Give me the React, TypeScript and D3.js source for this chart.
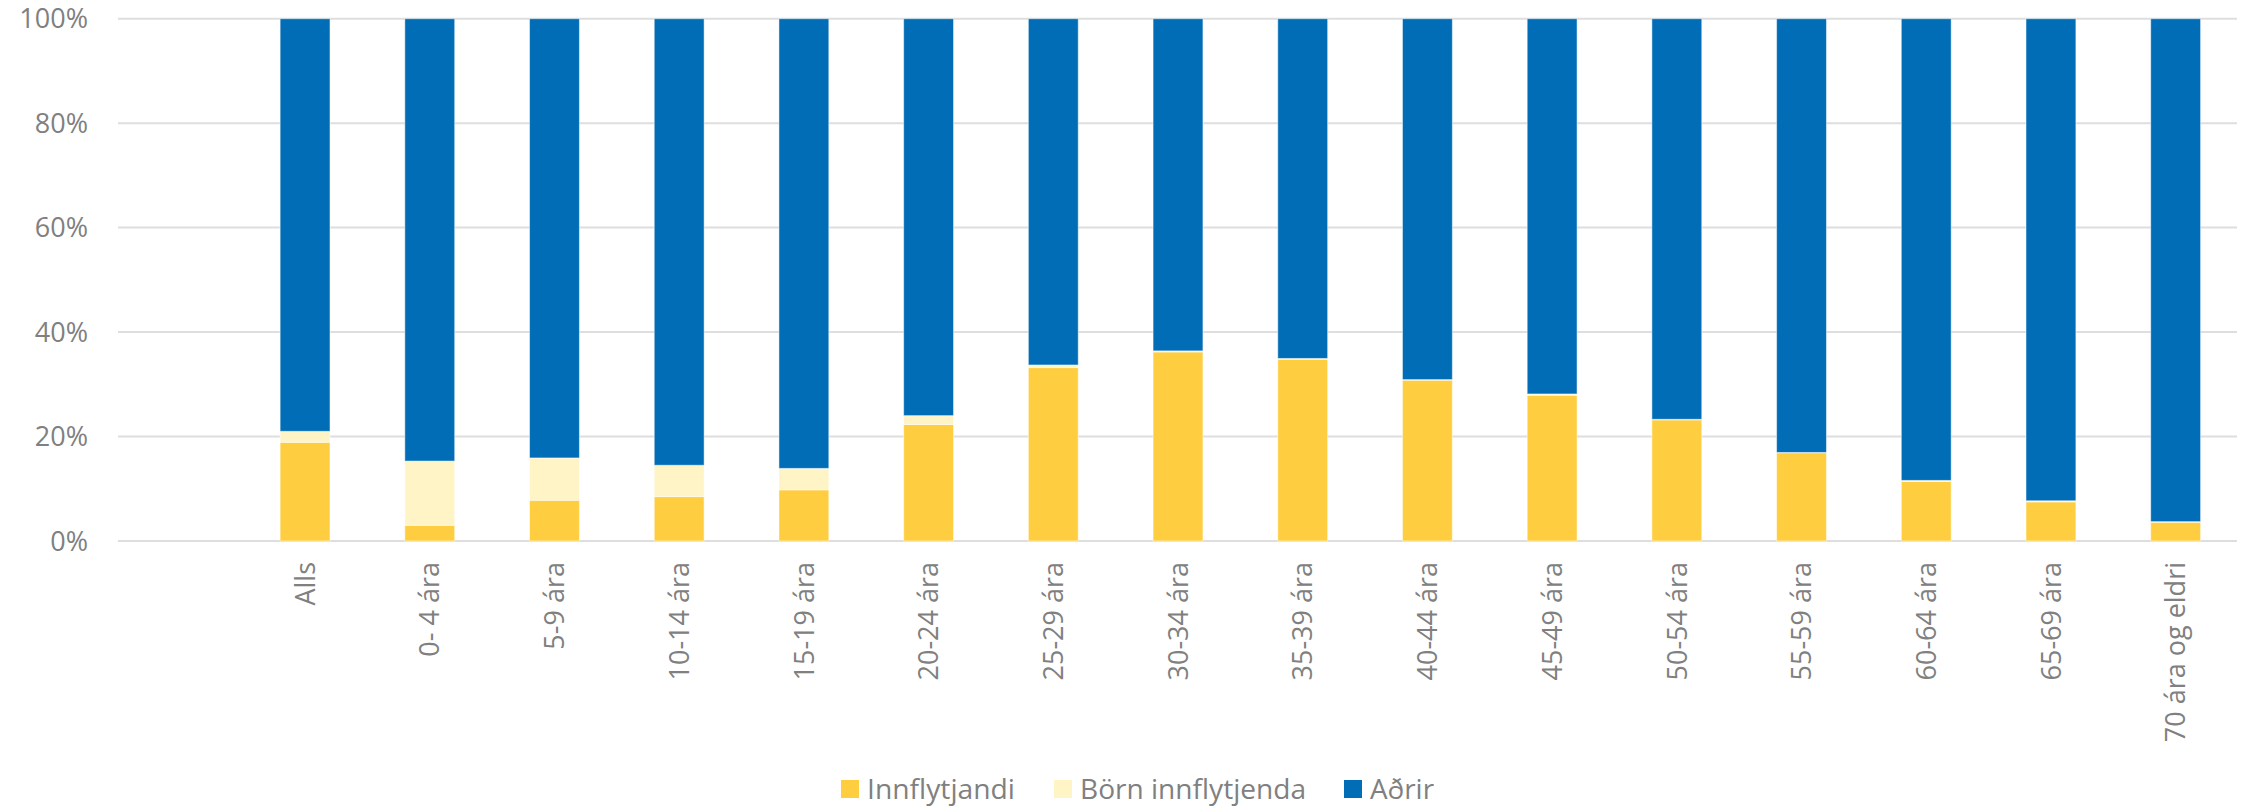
import React from "react";
import * as d3 from "d3";

const categories = [
  "Alls", "0- 4 ára", "5-9 ára", "10-14 ára", "15-19 ára", "20-24 ára", "25-29 ára",
  "30-34 ára", "35-39 ára", "40-44 ára", "45-49 ára", "50-54 ára", "55-59 ára",
  "60-64 ára", "65-69 ára", "70 ára og eldri",
];
const innflytjandi = [18.9, 3.0, 7.8, 8.5, 9.8, 22.3, 33.2, 36.2, 34.8, 30.8, 27.9, 23.2, 16.9, 11.4, 7.5, 3.6];
const bornInnflytjenda = [2.1, 12.3, 8.1, 6.0, 4.1, 1.7, 0.5, 0.2, 0.15, 0.1, 0.25, 0.1, 0.05, 0.2, 0.2, 0.1];
const adrir = [79.0, 84.7, 84.1, 85.5, 86.1, 76.0, 66.3, 63.6, 65.05, 69.1, 71.85, 76.7, 83.05, 88.4, 92.3, 96.3];
const seriesNames = ["Innflytjandi", "Börn innflytjenda", "Aðrir"];
const seriesColors = ["#FECE40", "#FFF4C5", "#006DB6"];
const yTicks = [0, 0.2, 0.4, 0.6, 0.8, 1];

const W = 2252;
const H = 808;
const FONT = "'Open Sans', sans-serif";
const GRAY = "#808080";

export default function App() {
  const rows = categories.map((c, i) => ({
    cat: c,
    [seriesNames[0]]: innflytjandi[i],
    [seriesNames[1]]: bornInnflytjenda[i],
    [seriesNames[2]]: adrir[i],
  }));
  const stacked = d3.stack<any>().keys(seriesNames).offset(d3.stackOffsetExpand)(rows);

  const x = d3
    .scaleBand<string>()
    .domain(["", ...categories])
    .range([118, 2238])
    .paddingInner(0.6)
    .paddingOuter(0.3);
  const y = d3.scaleLinear().domain([0, 1]).range([541, 18.7]);
  const fmt = d3.format(".0%");

  const legendItems = [
    { x: 841, tx: 867, tw: 148 },
    { x: 1054, tx: 1080, tw: 226 },
    { x: 1344, tx: 1370, tw: 64 },
  ];

  return (
    <svg
      width={W}
      height={H}
      style={{ position: "absolute", left: 0, top: 0, display: "block", background: "#fff" }}
    >
      <g>
        {yTicks.map((t) => (
          <g key={t}>
            <line x1={118} x2={2237} y1={y(t)} y2={y(t)} stroke="#DEDEDE" strokeWidth={2} />
            <text
              x={88}
              y={y(t)}
              dy="0.36em"
              textAnchor="end"
              fontFamily={FONT}
              fontSize={27}
              fill={GRAY}
            >
              {fmt(t)}
            </text>
          </g>
        ))}
      </g>
      <g>
        {stacked.map((s, si) => (
          <g key={s.key} fill={seriesColors[si]}>
            {s.map((d, i) => (
              <rect
                key={i}
                x={x(categories[i])!}
                width={x.bandwidth()}
                y={y(d[1])}
                height={Math.max(0, y(d[0]) - y(d[1]))}
                stroke="#ffffff"
                strokeOpacity={0.5}
                strokeWidth={1}
              />
            ))}
          </g>
        ))}
      </g>
      <g>
        {categories.map((c) => {
          const cx = x(c)! + x.bandwidth() / 2;
          return (
            <text
              key={c}
              transform={`translate(${cx},562) rotate(-90)`}
              dy="0.36em"
              textAnchor="end"
              fontFamily={FONT}
              fontSize={27}
              fill={GRAY}
            >
              {c}
            </text>
          );
        })}
      </g>
      <g>
        {seriesNames.map((n, i) => (
          <g key={n}>
            <rect x={legendItems[i].x} y={780} width={18} height={18} fill={seriesColors[i]} />
            <text
              x={legendItems[i].tx}
              y={799}
              fontFamily={FONT}
              fontSize={28}
              fill={GRAY}
              textLength={legendItems[i].tw}
              lengthAdjust="spacingAndGlyphs"
            >
              {n}
            </text>
          </g>
        ))}
      </g>
    </svg>
  );
}
